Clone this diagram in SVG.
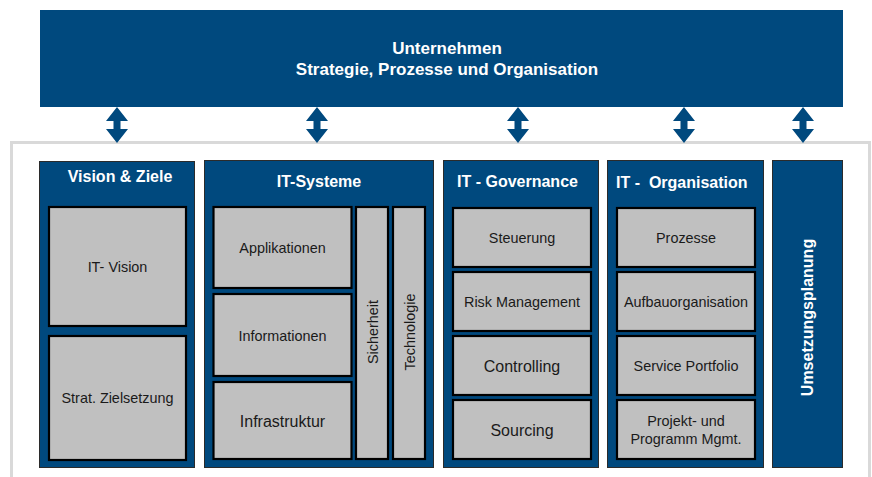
<svg xmlns="http://www.w3.org/2000/svg" xmlns:xlink="http://www.w3.org/1999/xlink" width="872" height="477" viewBox="0 0 872 477">
<defs>
<style>
.bg{fill:#ffffff}
.frame{fill:none;stroke:#d9d9d9;stroke-width:3}
.col{fill:#00497e;stroke:#2b2b2b;stroke-width:1}
.box{fill:#c0c0c0;stroke:#000000;stroke-width:2.2}
.arrow{fill:#00497e}
.hdr{font-family:"Liberation Sans",Arial,sans-serif;font-weight:bold;font-size:16px;fill:#ffffff}
.ttl{font-family:"Liberation Sans",Arial,sans-serif;font-weight:bold;font-size:17px;fill:#ffffff;text-anchor:middle}
.lbl{font-family:"Liberation Sans",Arial,sans-serif;font-size:14.4px;fill:#1a1a1a;text-anchor:middle}
.lbl2{font-family:"Liberation Sans",Arial,sans-serif;font-size:16px;fill:#1a1a1a;text-anchor:middle}
</style>
<path id="dblarrow" d="M0,0 L11,14 L3.5,14 L3.5,22 L11,22 L0,36 L-11,22 L-3.5,22 L-3.5,14 L-11,14 Z"/>
</defs>
<rect class="bg" x="0" y="0" width="872" height="477"/>
<rect class="frame" x="11.5" y="142.5" width="858" height="400"/>

<g id="unternehmen">
<rect x="40" y="10" width="803" height="97" fill="#00497e"/>
<text class="ttl" x="447" y="54">Unternehmen</text>
<text class="ttl" x="447" y="75">Strategie, Prozesse und Organisation</text>
</g>

<g id="connectors">
<use xlink:href="#dblarrow" class="arrow" x="117" y="107"/>
<use xlink:href="#dblarrow" class="arrow" x="317" y="107"/>
<use xlink:href="#dblarrow" class="arrow" x="518" y="107"/>
<use xlink:href="#dblarrow" class="arrow" x="684" y="107"/>
<use xlink:href="#dblarrow" class="arrow" x="803" y="107"/>
</g>

<g id="vision-ziele">
<rect class="col" x="39.5" y="161.5" width="155" height="306"/>
<text class="hdr" x="120" y="182" text-anchor="middle">Vision &amp; Ziele</text>
<g id="it-vision">
<rect class="box" x="49" y="207" width="137" height="119"/>
<text class="lbl" x="117.5" y="271.5">IT- Vision</text>
</g>
<g id="strat-zielsetzung">
<rect class="box" x="49" y="336" width="137" height="124"/>
<text class="lbl" x="117.5" y="403">Strat. Zielsetzung</text>
</g>
</g>

<g id="it-systeme">
<rect class="col" x="204.5" y="160.5" width="229" height="307"/>
<text class="hdr" x="319" y="187" text-anchor="middle">IT-Systeme</text>
<g id="applikationen">
<rect class="box" x="213.5" y="207" width="138" height="81"/>
<text class="lbl" x="282.5" y="253">Applikationen</text>
</g>
<g id="informationen">
<rect class="box" x="213.5" y="294" width="138" height="82"/>
<text class="lbl" x="282.5" y="340.5">Informationen</text>
</g>
<g id="infrastruktur">
<rect class="box" x="213.5" y="382" width="138" height="77"/>
<text class="lbl2" x="282.5" y="426.5">Infrastruktur</text>
</g>
<g id="sicherheit">
<rect class="box" x="356" y="207" width="32" height="252"/>
<text class="lbl" transform="translate(377.5,332) rotate(-90)" x="0" y="0">Sicherheit</text>
</g>
<g id="technologie">
<rect class="box" x="393" y="207" width="32" height="252"/>
<text class="lbl" transform="translate(414.5,332) rotate(-90)" x="0" y="0">Technologie</text>
</g>
</g>

<g id="it-governance">
<rect class="col" x="443.5" y="160.5" width="155" height="307"/>
<text class="hdr" x="457" y="187">IT - Governance</text>
<g id="steuerung">
<rect class="box" x="453" y="208" width="138" height="59"/>
<text class="lbl" x="522" y="243">Steuerung</text>
</g>
<g id="risk-management">
<rect class="box" x="453" y="272" width="138" height="59"/>
<text class="lbl" x="522" y="306.7">Risk Management</text>
</g>
<g id="controlling">
<rect class="box" x="453" y="336" width="138" height="59"/>
<text class="lbl2" x="522" y="371.8">Controlling</text>
</g>
<g id="sourcing">
<rect class="box" x="453" y="400" width="138" height="59"/>
<text class="lbl2" x="522" y="435.5">Sourcing</text>
</g>
</g>

<g id="it-organisation">
<rect class="col" x="607.5" y="160.5" width="156" height="307"/>
<text class="hdr" x="616" y="188">IT -&#160; Organisation</text>
<g id="prozesse">
<rect class="box" x="617" y="208" width="138" height="59"/>
<text class="lbl" x="686" y="243">Prozesse</text>
</g>
<g id="aufbauorganisation">
<rect class="box" x="617" y="272" width="138" height="59"/>
<text class="lbl" x="686" y="306.7">Aufbauorganisation</text>
</g>
<g id="service-portfolio">
<rect class="box" x="617" y="336" width="138" height="59"/>
<text class="lbl" x="686" y="370.8">Service Portfolio</text>
</g>
<g id="projekt-programm">
<rect class="box" x="617" y="400" width="138" height="59"/>
<text class="lbl" x="686" y="425.5">Projekt- und</text>
<text class="lbl" x="686" y="443.5">Programm Mgmt.</text>
</g>
</g>

<g id="umsetzungsplanung">
<rect class="col" x="772.5" y="160.5" width="70" height="307"/>
<text class="hdr" transform="translate(813,317.5) rotate(-90)" x="0" y="0" text-anchor="middle">Umsetzungsplanung</text>
</g>
</svg>
